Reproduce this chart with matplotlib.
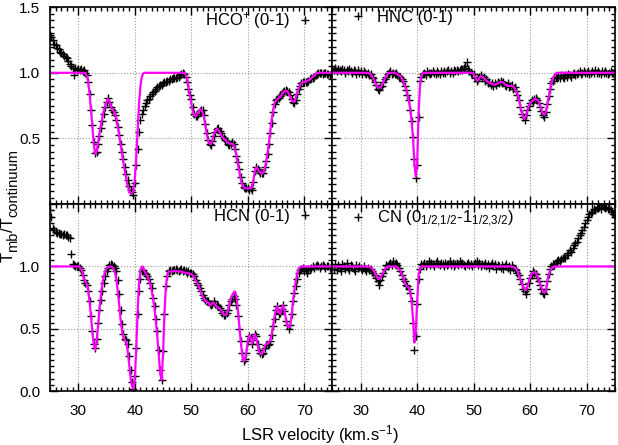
import numpy as np
import matplotlib
matplotlib.use('Agg')
import matplotlib.pyplot as plt
from matplotlib.ticker import MultipleLocator

plt.rcParams['font.family'] = ['Liberation Sans', 'DejaVu Sans']
plt.rcParams['font.size'] = 11
plt.rcParams['mathtext.default'] = 'regular'

# velocity channels (km/s), 0.25 km/s step
velocity = np.arange(25.0, 75.001, 0.25)

# ---- HCO+ (0-1)
hcoData = [
    1.29, 1.27, 1.25, 1.22, 1.21, 1.19, 1.18, 1.16, 1.15, 1.14, 1.13, 1.12, 1.11, 1.09, 1.07, 1.05, 1.04, 0.98, 1.04, 1.02,
    1.03, 1.02, 1.03, 1.01, 1.02, 1.00, 0.98, 0.93, 0.84, 0.72, 0.60, 0.47, 0.39, 0.40, 0.46, 0.52, 0.58, 0.63, 0.69, 0.74,
    0.78, 0.81, 0.78, 0.74, 0.72, 0.70, 0.68, 0.64, 0.59, 0.53, 0.46, 0.40, 0.34, 0.28, 0.23, 0.18, 0.14, 0.11, 0.09, 0.07,
    0.16, 0.30, 0.42, 0.55, 0.64, 0.69, 0.72, 0.75, 0.77, 0.79, 0.80, 0.82, 0.84, 0.85, 0.86, 0.88, 0.89, 0.90, 0.91, 0.91,
    0.92, 0.93, 0.93, 0.94, 0.94, 0.95, 0.95, 0.96, 0.96, 0.96, 0.97, 0.97, 0.98, 0.99, 1.00, 0.99, 0.97, 0.93, 0.88, 0.83,
    0.80, 0.74, 0.69, 0.67, 0.67, 0.69, 0.71, 0.72, 0.72, 0.68, 0.61, 0.54, 0.49, 0.46, 0.45, 0.48, 0.52, 0.55, 0.57, 0.58,
    0.56, 0.54, 0.52, 0.50, 0.49, 0.48, 0.46, 0.45, 0.46, 0.47, 0.46, 0.42, 0.37, 0.32, 0.27, 0.21, 0.16, 0.13, 0.12, 0.12,
    0.12, 0.11, 0.12, 0.11, 0.17, 0.25, 0.28, 0.27, 0.25, 0.24, 0.24, 0.24, 0.28, 0.33, 0.38, 0.46, 0.54, 0.62, 0.70, 0.76,
    0.79, 0.80, 0.81, 0.82, 0.84, 0.85, 0.86, 0.87, 0.86, 0.85, 0.83, 0.80, 0.78, 0.77, 0.79, 0.84, 0.88, 0.90, 0.92, 0.93,
    0.93, 0.93, 0.93, 0.94, 0.95, 0.96, 0.96, 0.97, 0.98, 0.99, 1.00, 1.00, 1.00, 0.99, 1.00, 1.00, 0.99, 0.99, 0.98, 0.99,
    0.98]
hcoFit = [
    1.00, 1.00, 1.00, 1.00, 1.00, 1.00, 1.00, 1.00, 1.00, 1.00, 1.00, 1.00, 1.00, 1.00, 1.00, 1.00, 1.00, 1.00, 1.00, 1.00,
    1.00, 1.00, 1.00, 1.00, 1.00, 0.995, 0.98, 0.93, 0.84, 0.72, 0.58, 0.45, 0.38, 0.40, 0.47, 0.54, 0.60, 0.66, 0.71, 0.75,
    0.78, 0.80, 0.79, 0.75, 0.72, 0.71, 0.69, 0.65, 0.59, 0.52, 0.45, 0.38, 0.31, 0.25, 0.19, 0.14, 0.10, 0.08, 0.08, 0.10,
    0.19, 0.35, 0.56, 0.76, 0.90, 0.97, 0.995, 1.00, 1.00, 1.00, 1.00, 1.00, 1.00, 1.00, 1.00, 1.00, 1.00, 1.00, 1.00, 1.00,
    1.00, 1.00, 1.00, 1.00, 1.00, 1.00, 1.00, 1.00, 1.00, 1.00, 1.00, 1.00, 1.00, 1.00, 1.00, 1.00, 0.99, 0.96, 0.90, 0.83,
    0.77, 0.71, 0.68, 0.67, 0.68, 0.70, 0.72, 0.72, 0.70, 0.66, 0.60, 0.53, 0.48, 0.46, 0.46, 0.49, 0.53, 0.56, 0.57, 0.57,
    0.55, 0.53, 0.51, 0.50, 0.49, 0.48, 0.47, 0.46, 0.46, 0.46, 0.45, 0.42, 0.37, 0.31, 0.25, 0.19, 0.15, 0.13, 0.12, 0.12,
    0.12, 0.12, 0.12, 0.13, 0.18, 0.25, 0.28, 0.27, 0.25, 0.24, 0.23, 0.24, 0.27, 0.32, 0.39, 0.47, 0.56, 0.65, 0.72, 0.77,
    0.79, 0.80, 0.81, 0.82, 0.83, 0.85, 0.86, 0.86, 0.86, 0.84, 0.82, 0.79, 0.78, 0.78, 0.81, 0.85, 0.88, 0.91, 0.92, 0.93,
    0.93, 0.93, 0.94, 0.94, 0.95, 0.96, 0.97, 0.98, 0.99, 1.00, 1.00, 1.00, 1.00, 1.00, 1.00, 1.00, 1.00, 1.00, 1.00, 1.00,
    1.00]

# ---- HNC (0-1)
hncData = [
    1.03, 1.02, 1.04, 1.01, 1.03, 1.02, 1.01, 1.03, 1.02, 1.00, 1.02, 1.01, 1.03, 1.01, 1.00, 1.02, 1.01, 0.99, 1.02, 1.00,
    1.01, 0.99, 1.01, 1.00, 0.99, 1.00, 0.98, 0.99, 0.97, 0.96, 0.93, 0.91, 0.88, 0.87, 0.89, 0.90, 0.93, 0.95, 0.97, 0.99,
    1.00, 1.01, 0.99, 1.00, 0.99, 1.00, 0.98, 0.97, 0.97, 0.95, 0.94, 0.90, 0.87, 0.83, 0.79, 0.72, 0.63, 0.51, 0.34, 0.20,
    0.30, 0.66, 0.94, 0.97, 0.99, 1.00, 0.98, 1.01, 1.00, 0.99, 1.00, 1.01, 1.00, 0.99, 1.01, 1.00, 0.99, 1.01, 1.00, 1.01,
    1.00, 1.01, 1.02, 1.00, 1.01, 1.00, 1.02, 1.01, 1.02, 1.01, 1.02, 1.03, 1.02, 1.04, 1.05, 1.08, 1.03, 1.01, 1.00, 0.99,
    0.99, 0.96, 0.94, 0.95, 0.97, 0.98, 0.96, 0.97, 0.94, 0.95, 0.92, 0.93, 0.91, 0.92, 0.90, 0.92, 0.91, 0.93, 0.92, 0.94,
    0.92, 0.93, 0.91, 0.90, 0.92, 0.89, 0.90, 0.91, 0.88, 0.89, 0.86, 0.83, 0.79, 0.74, 0.69, 0.66, 0.64, 0.68, 0.72, 0.75,
    0.77, 0.79, 0.78, 0.80, 0.81, 0.79, 0.77, 0.74, 0.71, 0.68, 0.66, 0.70, 0.76, 0.82, 0.88, 0.92, 0.94, 0.96, 0.97, 0.96,
    0.97, 0.96, 0.98, 0.97, 0.96, 0.98, 0.97, 0.99, 0.98, 0.97, 0.99, 1.00, 0.98, 0.99, 1.00, 1.01, 0.99, 1.00, 1.01, 1.00,
    1.00, 1.01, 0.99, 1.00, 1.01, 1.00, 1.02, 1.00, 1.01, 1.00, 0.99, 1.01, 1.00, 1.01, 1.00, 0.99, 1.00, 1.01, 1.00, 1.00,
    1.00]
hncFit = [
    1.00, 1.00, 1.00, 1.00, 1.00, 1.00, 1.00, 1.00, 1.00, 1.00, 1.00, 1.00, 1.00, 1.00, 1.00, 1.00, 1.00, 1.00, 1.00, 1.00,
    1.00, 1.00, 1.00, 1.00, 1.00, 1.00, 0.995, 0.99, 0.975, 0.955, 0.93, 0.905, 0.89, 0.885, 0.89, 0.905, 0.93, 0.955, 0.975, 0.99,
    1.00, 1.00, 1.00, 1.00, 1.00, 0.995, 0.99, 0.98, 0.975, 0.96, 0.94, 0.91, 0.88, 0.84, 0.79, 0.73, 0.64, 0.50, 0.31, 0.21,
    0.32, 0.70, 0.91, 0.98, 1.00, 1.00, 1.00, 1.00, 1.00, 1.00, 1.00, 1.00, 1.00, 1.00, 1.00, 1.00, 1.00, 1.00, 1.00, 1.00,
    1.00, 1.00, 1.00, 1.00, 1.00, 1.00, 1.00, 1.00, 1.00, 1.00, 1.00, 1.00, 1.00, 1.00, 1.00, 1.00, 1.00, 1.00, 1.00, 1.00,
    0.99, 0.97, 0.945, 0.94, 0.96, 0.975, 0.97, 0.96, 0.95, 0.94, 0.93, 0.925, 0.92, 0.915, 0.91, 0.91, 0.915, 0.92, 0.925, 0.93,
    0.93, 0.925, 0.915, 0.905, 0.90, 0.90, 0.90, 0.90, 0.895, 0.88, 0.86, 0.84, 0.80, 0.75, 0.70, 0.66, 0.65, 0.67, 0.71, 0.75,
    0.765, 0.78, 0.79, 0.80, 0.80, 0.795, 0.78, 0.75, 0.72, 0.69, 0.68, 0.70, 0.75, 0.81, 0.87, 0.92, 0.95, 0.98, 0.99, 1.00,
    1.00, 1.00, 1.00, 1.00, 1.00, 1.00, 1.00, 1.00, 1.00, 1.00, 1.00, 1.00, 1.00, 1.00, 1.00, 1.00, 1.00, 1.00, 1.00, 1.00,
    1.00, 1.00, 1.00, 1.00, 1.00, 1.00, 1.00, 1.00, 1.00, 1.00, 1.00, 1.00, 1.00, 1.00, 1.00, 1.00, 1.00, 1.00, 1.00, 1.00,
    1.00]

# ---- HCN (0-1)
hcnData = [
    1.45, 1.40, 1.31, 1.29, 1.28, 1.27, 1.27, 1.26, 1.26, 1.25, 1.26, 1.25, 1.25, 1.24, 1.23, 1.10, 1.02, 1.01, 1.00, 1.00,
    1.00, 0.99, 0.97, 0.93, 0.89, 0.87, 0.85, 0.80, 0.72, 0.60, 0.48, 0.38, 0.35, 0.42, 0.55, 0.65, 0.73, 0.80, 0.87, 0.92,
    0.96, 0.99, 1.01, 1.02, 1.01, 1.00, 0.99, 0.96, 0.89, 0.78, 0.65, 0.54, 0.46, 0.42, 0.41, 0.38, 0.28, 0.17, 0.07, 0.02,
    0.12, 0.35, 0.62, 0.80, 0.90, 0.96, 0.97, 0.95, 0.94, 0.92, 0.90, 0.87, 0.83, 0.75, 0.68, 0.58, 0.48, 0.33, 0.17, 0.09,
    0.32, 0.62, 0.84, 0.92, 0.96, 0.97, 0.96, 0.97, 0.97, 0.98, 0.97, 0.96, 0.97, 0.98, 0.96, 0.97, 0.96, 0.95, 0.96, 0.95,
    0.95, 0.94, 0.92, 0.89, 0.87, 0.85, 0.83, 0.80, 0.77, 0.75, 0.73, 0.72, 0.72, 0.70, 0.69, 0.70, 0.72, 0.70, 0.69, 0.68,
    0.665, 0.65, 0.625, 0.61, 0.61, 0.63, 0.65, 0.69, 0.72, 0.74, 0.76, 0.74, 0.69, 0.60, 0.50, 0.40, 0.31, 0.24, 0.26, 0.31,
    0.40, 0.44, 0.43, 0.38, 0.41, 0.46, 0.44, 0.38, 0.33, 0.31, 0.30, 0.31, 0.35, 0.37, 0.37, 0.38, 0.40, 0.45, 0.52, 0.58,
    0.65, 0.68, 0.62, 0.63, 0.66, 0.69, 0.64, 0.56, 0.53, 0.50, 0.53, 0.62, 0.72, 0.79, 0.84, 0.90, 0.95, 0.97, 0.98, 0.99,
    0.96, 0.97, 0.95, 0.97, 0.98, 0.99, 1.00, 0.99, 1.00, 1.01, 1.00, 0.99, 1.00, 1.01, 1.00, 0.99, 1.00, 1.00, 0.99, 1.00,
    1.00]
hcnFit = [
    1.00, 1.00, 1.00, 1.00, 1.00, 1.00, 1.00, 1.00, 1.00, 1.00, 1.00, 1.00, 1.00, 1.00, 1.00, 1.00, 1.00, 1.00, 1.00, 1.00,
    1.00, 0.995, 0.98, 0.95, 0.90, 0.88, 0.86, 0.81, 0.72, 0.60, 0.47, 0.37, 0.33, 0.40, 0.53, 0.66, 0.77, 0.86, 0.92, 0.96,
    0.985, 0.995, 1.00, 1.00, 0.995, 0.98, 0.95, 0.89, 0.80, 0.69, 0.57, 0.48, 0.43, 0.41, 0.39, 0.32, 0.22, 0.11, 0.04, 0.02,
    0.10, 0.33, 0.64, 0.87, 0.97, 1.00, 0.99, 0.96, 0.94, 0.92, 0.89, 0.85, 0.80, 0.74, 0.66, 0.55, 0.43, 0.28, 0.14, 0.09,
    0.30, 0.62, 0.84, 0.93, 0.96, 0.96, 0.96, 0.96, 0.965, 0.965, 0.96, 0.96, 0.96, 0.96, 0.955, 0.95, 0.95, 0.95, 0.945, 0.94,
    0.94, 0.93, 0.91, 0.89, 0.87, 0.85, 0.82, 0.79, 0.76, 0.74, 0.72, 0.72, 0.71, 0.69, 0.69, 0.71, 0.71, 0.69, 0.68, 0.67,
    0.665, 0.65, 0.63, 0.615, 0.61, 0.62, 0.65, 0.70, 0.74, 0.77, 0.79, 0.80, 0.76, 0.65, 0.52, 0.40, 0.30, 0.24, 0.25, 0.31,
    0.40, 0.45, 0.43, 0.38, 0.41, 0.46, 0.43, 0.37, 0.32, 0.30, 0.30, 0.32, 0.36, 0.38, 0.38, 0.39, 0.41, 0.46, 0.53, 0.60,
    0.66, 0.68, 0.63, 0.62, 0.66, 0.69, 0.65, 0.58, 0.53, 0.51, 0.52, 0.60, 0.72, 0.81, 0.88, 0.94, 0.98, 0.995, 1.00, 1.00,
    1.00, 1.00, 1.00, 1.00, 1.00, 1.00, 1.00, 1.00, 1.00, 1.00, 1.00, 1.00, 1.00, 1.00, 1.00, 1.00, 1.00, 1.00, 1.00, 1.00,
    1.00]

# ---- CN (0_1/2,1/2 - 1_1/2,3/2)
cnData = [
    1.00, 0.98, 1.02, 0.97, 1.01, 0.99, 0.96, 1.02, 1.00, 0.98, 1.03, 0.99, 0.97, 1.01, 1.00, 0.98, 0.96, 1.01, 0.99, 1.00,
    0.99, 0.97, 1.00, 0.98, 0.96, 0.99, 0.97, 0.98, 0.96, 0.95, 0.93, 0.91, 0.88, 0.85, 0.89, 0.92, 0.95, 0.98, 1.01, 1.00,
    1.02, 1.03, 1.01, 1.04, 1.02, 1.03, 1.01, 0.99, 0.96, 0.93, 0.90, 0.88, 0.85, 0.84, 0.82, 0.79, 0.72, 0.55, 0.33, 0.44,
    0.70, 0.90, 0.98, 1.02, 1.01, 1.03, 1.00, 1.02, 1.04, 1.01, 1.03, 1.02, 1.00, 1.03, 1.04, 1.02, 1.01, 1.03, 1.02, 1.00,
    1.03, 1.01, 1.02, 1.04, 1.01, 1.03, 1.00, 1.02, 1.03, 1.01, 1.04, 1.02, 1.03, 1.01, 1.00, 1.02, 1.03, 1.01, 1.02, 1.00,
    1.02, 1.03, 1.04, 1.01, 1.03, 1.00, 1.02, 1.01, 1.03, 1.00, 1.02, 0.99, 1.01, 1.03, 1.00, 1.02, 0.98, 1.01, 1.00, 0.99,
    1.01, 0.98, 1.00, 1.02, 0.99, 1.00, 0.97, 1.01, 0.99, 0.98, 0.97, 0.95, 0.93, 0.90, 0.86, 0.82, 0.80, 0.78, 0.82, 0.87,
    0.91, 0.93, 0.96, 0.95, 0.94, 0.91, 0.88, 0.85, 0.82, 0.79, 0.78, 0.82, 0.88, 0.94, 0.98, 1.00, 1.02, 1.01, 1.03, 1.04,
    1.05, 1.04, 1.06, 1.07, 1.08, 1.07, 1.09, 1.11, 1.13, 1.12, 1.15, 1.17, 1.19, 1.20, 1.23, 1.25, 1.27, 1.29, 1.32, 1.35,
    1.37, 1.40, 1.42, 1.43, 1.44, 1.46, 1.45, 1.47, 1.47, 1.48, 1.46, 1.49, 1.48, 1.47, 1.48, 1.46, 1.47, 1.45, 1.44, 1.42,
    1.41]
cnFit = [
    1.00, 1.00, 1.00, 1.00, 1.00, 1.00, 1.00, 1.00, 1.00, 1.00, 1.00, 1.00, 1.00, 1.00, 1.00, 1.00, 1.00, 1.00, 1.00, 1.00,
    1.00, 1.00, 1.00, 1.00, 1.00, 1.00, 1.00, 0.995, 0.985, 0.97, 0.95, 0.925, 0.905, 0.90, 0.91, 0.93, 0.955, 0.975, 0.99, 1.00,
    1.00, 1.00, 1.00, 1.00, 1.00, 1.00, 0.99, 0.98, 0.97, 0.94, 0.91, 0.88, 0.85, 0.84, 0.83, 0.80, 0.73, 0.58, 0.39, 0.47,
    0.73, 0.93, 0.99, 1.00, 1.00, 1.00, 1.00, 1.00, 1.00, 1.00, 1.00, 1.00, 1.00, 1.00, 1.00, 1.00, 1.00, 1.00, 1.00, 1.00,
    1.00, 1.00, 1.00, 1.00, 1.00, 1.00, 1.00, 1.00, 1.00, 1.00, 1.00, 1.00, 1.00, 1.00, 1.00, 1.00, 1.00, 1.00, 1.00, 1.00,
    1.00, 1.00, 1.00, 1.00, 1.00, 1.00, 1.00, 1.00, 1.00, 1.00, 1.00, 1.00, 1.00, 1.00, 1.00, 1.00, 1.00, 1.00, 1.00, 1.00,
    1.00, 1.00, 1.00, 1.00, 1.00, 1.00, 1.00, 1.00, 0.995, 0.99, 0.98, 0.96, 0.93, 0.90, 0.87, 0.84, 0.815, 0.81, 0.84, 0.88,
    0.92, 0.94, 0.95, 0.955, 0.95, 0.92, 0.89, 0.86, 0.83, 0.80, 0.79, 0.80, 0.87, 0.93, 0.96, 0.985, 0.995, 1.00, 1.00, 1.00,
    1.00, 1.00, 1.00, 1.00, 1.00, 1.00, 1.00, 1.00, 1.00, 1.00, 1.00, 1.00, 1.00, 1.00, 1.00, 1.00, 1.00, 1.00, 1.00, 1.00,
    1.00, 1.00, 1.00, 1.00, 1.00, 1.00, 1.00, 1.00, 1.00, 1.00, 1.00, 1.00, 1.00, 1.00, 1.00, 1.00, 1.00, 1.00, 1.00, 1.00,
    1.00]

labels = [r'HCO$^{+}$ (0-1)', 'HNC (0-1)', 'HCN (0-1)',
          r'CN (0$_{1/2{,}1/2}$-1$_{1/2{,}3/2}$)']
allData = [hcoData, hncData, hcnData, cnData]
allFits = [hcoFit, hncFit, hcnFit, cnFit]

fig = plt.figure(figsize=(6.18, 4.45), dpi=100)
gs = fig.add_gridspec(2, 2, left=0.081, right=0.995, top=0.984, bottom=0.121,
                      hspace=0, wspace=0, height_ratios=[197, 187])

for idx in range(4):
    row, col = idx // 2, idx % 2
    ax = fig.add_subplot(gs[row, col])
    ax.plot(velocity, allData[idx], linestyle='none', marker='+', color='black',
            markersize=6, markeredgewidth=1.0, label=labels[idx])
    ax.plot(velocity, allFits[idx], color='#ff00ff', linewidth=1.6)

    ax.set_xlim(25, 75)
    ax.set_ylim(0, 1.5)
    ax.xaxis.set_major_locator(MultipleLocator(10))
    ax.xaxis.set_minor_locator(MultipleLocator(1))
    ax.yaxis.set_major_locator(MultipleLocator(0.5))
    ax.yaxis.set_minor_locator(MultipleLocator(0.05))
    ax.tick_params(which='both', direction='in', top=True, right=True, width=1)
    ax.tick_params(which='major', length=6)
    ax.tick_params(which='minor', length=3)
    ax.tick_params(axis='x', pad=9)
    ax.tick_params(axis='y', pad=7)
    ax.grid(True, which='major', linestyle=':', color='#999999', linewidth=0.8)
    for sp in ax.spines.values():
        sp.set_linewidth(1.2)

    if row == 0:
        ax.set_xticklabels([])
    if col == 1:
        ax.set_yticklabels([])
    else:
        ax.set_yticks([0, 0.5, 1.0, 1.5])
        if row == 0:
            ax.set_yticklabels(['', '0.5', '1.0', '1.5'])
        else:
            ax.set_yticklabels(['0.0', '0.5', '1.0', ''])

    topAnchor = 0.985 if row == 0 else 0.975
    if col == 0:
        ax.legend(loc='upper right', bbox_to_anchor=(0.926, topAnchor), frameon=False,
                  markerfirst=False, numpoints=1, handlelength=0.8, handletextpad=0.5,
                  borderpad=0, borderaxespad=0, fontsize=12)
    else:
        ax.legend(loc='upper left', bbox_to_anchor=(0.067, topAnchor), frameon=False,
                  markerfirst=True, numpoints=1, handlelength=0.8, handletextpad=0.75,
                  borderpad=0, borderaxespad=0, fontsize=12)

fig.text(0.518, 0.011, r'LSR velocity (km.s$^{-1}$)', ha='center', va='baseline', fontsize=12)

# y label built from pieces so the subscripts keep gnuplot-like proportions
fig.canvas.draw()
renderer = fig.canvas.get_renderer()
yPix = 445 - 262
for txt, size, xPix in [('T', 12, 13), ('mb', 10.5, 17), ('/T', 12, 13), ('continuum', 10.5, 17)]:
    t = fig.text(xPix / 618, yPix / 445, txt, rotation=90, rotation_mode='anchor',
                 ha='left', va='baseline', fontsize=size)
    yPix += t.get_window_extent(renderer).height

plt.savefig('out.png', dpi=100)
